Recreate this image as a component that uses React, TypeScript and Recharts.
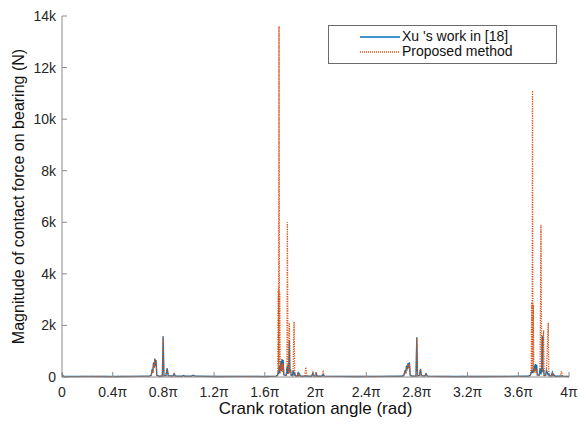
import React from 'react';
import { LineChart, Line, XAxis, YAxis } from 'recharts';

// Crank rotation angle, in units of π
const angle: number[] = [
  0, 0.005, 0.015, 0.2, 0.4, 0.55, 0.69, 0.705, 0.712, 0.717, 0.722, 0.727, 0.732, 0.737, 0.742, 0.748,
  0.765, 0.792, 0.798, 0.804, 0.82, 0.83, 0.838, 0.875, 0.885, 0.895, 0.95, 0.96, 0.97, 1.02, 1.035, 1.05,
  1.2, 1.4, 1.6, 1.69, 1.702, 1.706, 1.709, 1.712, 1.715, 1.718, 1.722, 1.727, 1.731, 1.736, 1.74, 1.745,
  1.75, 1.762, 1.77, 1.774, 1.778, 1.783, 1.788, 1.794, 1.798, 1.803, 1.808, 1.818, 1.823, 1.831, 1.836,
  1.842, 1.858, 1.864, 1.868, 1.873, 1.882, 1.915, 1.923, 1.932, 1.97, 1.98, 1.99, 2.0, 2.005, 2.012,
  2.05, 2.06, 2.07, 2.3, 2.5, 2.68, 2.698, 2.706, 2.712, 2.718, 2.724, 2.73, 2.735, 2.741, 2.747, 2.765,
  2.793, 2.799, 2.805, 2.82, 2.828, 2.836, 2.862, 2.872, 2.882, 2.95, 3.1, 3.3, 3.5, 3.68, 3.695, 3.702,
  3.706, 3.709, 3.712, 3.715, 3.718, 3.722, 3.727, 3.731, 3.736, 3.74, 3.745, 3.75, 3.765, 3.772, 3.779,
  3.784, 3.789, 3.793, 3.799, 3.804, 3.815, 3.822, 3.836, 3.841, 3.848, 3.86, 3.868, 3.873, 3.878, 3.888,
  3.93, 3.94, 3.95, 4.0,
];

// Xu 's work in [18]
const xuForce: number[] = [
  170, 60, 20, 25, 20, 25, 30, 80, 320, 180, 560, 380, 720, 420, 660, 70,
  30, 40, 1580, 60, 50, 340, 50, 40, 130, 35, 30, 60, 30, 30, 70, 30,
  20, 25, 20, 35, 80, 200, 120, 320, 150, 450, 220, 620, 300, 700, 280, 660,
  100, 60, 80, 380, 120, 480, 150, 1430, 200, 300, 60, 60, 260, 90, 150,
  40, 40, 200, 70, 120, 30, 30, 50, 30, 30, 150, 30, 30, 180, 30,
  30, 100, 30, 20, 25, 30, 70, 260, 150, 440, 300, 540, 350, 570, 70, 30,
  40, 1540, 60, 50, 320, 50, 40, 130, 35, 25, 20, 20, 25, 30, 70, 160,
  220, 150, 280, 160, 320, 200, 450, 250, 500, 220, 470, 80, 70, 350, 100,
  300, 1600, 200, 300, 60, 60, 260, 80, 120, 40, 40, 170, 60, 110, 30,
  30, 40, 30, 20,
];

// Proposed method
const proposedForce: number[] = [
  130, 50, 15, 20, 18, 20, 22, 60, 280, 150, 520, 340, 690, 400, 630, 60,
  25, 35, 1560, 50, 40, 320, 40, 30, 110, 30, 25, 50, 25, 25, 60, 25,
  20, 20, 18, 25, 60, 3400, 250, 13600, 500, 3300, 150, 480, 220, 560, 200, 520,
  80, 50, 60, 300, 6000, 380, 120, 2100, 160, 250, 50, 40, 200, 2150, 100,
  30, 30, 150, 50, 80, 25, 25, 380, 25, 25, 180, 25, 25, 150, 25,
  25, 200, 25, 20, 20, 22, 55, 230, 120, 400, 260, 500, 320, 520, 60, 25,
  35, 1520, 50, 40, 300, 40, 30, 110, 30, 20, 18, 20, 20, 22, 55, 350,
  2900, 250, 11100, 350, 2800, 150, 300, 200, 350, 160, 300, 60, 60, 280, 5900,
  250, 1500, 150, 1800, 50, 40, 200, 2100, 90, 30, 30, 120, 50, 80, 25,
  25, 220, 25, 20,
];

const xTicks: number[] = [0, 0.4, 0.8, 1.2, 1.6, 2, 2.4, 2.8, 3.2, 3.6, 4];
const yTicks: number[] = [0, 2000, 4000, 6000, 8000, 10000, 12000, 14000];

const seriesNames = ["Xu 's work in [18]", 'Proposed method'];
const BLUE = '#0072BD';
const ORANGE = '#D95319';

const data = angle.map((a, i) => ({ angle: a, xu: xuForce[i], proposed: proposedForce[i] }));

const fmtX = (v: number) => (v === 0 ? '0' : v === 1 ? 'π' : `${v}π`);
const fmtY = (v: number) => (v === 0 ? '0' : `${v / 1000}k`);
const blank = () => '';

const AXIS = '#8a8a8a';
const TICK_TEXT = { fill: '#262626', fontSize: 14 };

const LegendBox = () => (
  <div
    style={{
      position: 'absolute',
      left: 328,
      top: 25,
      width: 229,
      height: 39,
      border: '1px solid #6b6b6b',
      background: '#fff',
      boxSizing: 'border-box',
      fontSize: 14,
      color: '#111',
      lineHeight: '15px',
      paddingTop: 3,
    }}
  >
    {[0, 1].map((i) => (
      <div key={i} style={{ display: 'flex', alignItems: 'center', height: 15 }}>
        <svg width={73} height={10}>
          <line
            x1={31}
            x2={71}
            y1={5}
            y2={5}
            stroke={i === 0 ? BLUE : ORANGE}
            strokeWidth={1.3}
            strokeDasharray={i === 0 ? undefined : '1 1'}
          />
        </svg>
        <span>{seriesNames[i]}</span>
      </div>
    ))}
  </div>
);

export default function App() {
  return (
    <div
      style={{
        position: 'absolute',
        left: 0,
        top: 0,
        width: 579,
        height: 425,
        background: '#fff',
        fontFamily: '"Liberation Sans", Arial, sans-serif',
      }}
    >
      <LineChart width={579} height={425} data={data} margin={{ top: 16, right: 10, bottom: 18, left: 0 }}>
        <XAxis
          dataKey="angle"
          type="number"
          domain={[0, 4]}
          ticks={xTicks}
          tickFormatter={fmtX}
          interval={0}
          height={30}
          stroke={AXIS}
          tick={TICK_TEXT}
          tickSize={-5}
          tickMargin={15}
          allowDataOverflow
          label={{ value: 'Crank rotation angle (rad)', position: 'bottom', offset: -5, fill: '#111', fontSize: 17 }}
        />
        <XAxis
          xAxisId="top"
          orientation="top"
          type="number"
          domain={[0, 4]}
          ticks={xTicks}
          tickFormatter={blank}
          height={0}
          stroke={AXIS}
          tickSize={-5}
        />
        <YAxis
          type="number"
          domain={[0, 14000]}
          ticks={yTicks}
          tickFormatter={fmtY}
          interval={0}
          width={62}
          stroke={AXIS}
          tick={TICK_TEXT}
          tickSize={-5}
          tickMargin={11}
          label={{
            value: 'Magnitude of contact force on bearing (N)',
            angle: -90,
            position: 'insideLeft',
            offset: 18,
            fill: '#111',
            fontSize: 16,
            style: { textAnchor: 'middle' },
          }}
        />
        <YAxis
          yAxisId="right"
          orientation="right"
          type="number"
          domain={[0, 14000]}
          ticks={yTicks}
          tickFormatter={blank}
          width={0}
          stroke={AXIS}
          tickSize={-5}
        />
        <Line
          name={seriesNames[0]}
          dataKey="xu"
          type="linear"
          stroke={BLUE}
          strokeWidth={1.3}
          dot={false}
          isAnimationActive={false}
        />
        <Line
          name={seriesNames[1]}
          dataKey="proposed"
          type="linear"
          stroke={ORANGE}
          strokeWidth={1.3}
          strokeDasharray="1.2 1.2"
          dot={false}
          isAnimationActive={false}
        />
      </LineChart>
      <LegendBox />
    </div>
  );
}
